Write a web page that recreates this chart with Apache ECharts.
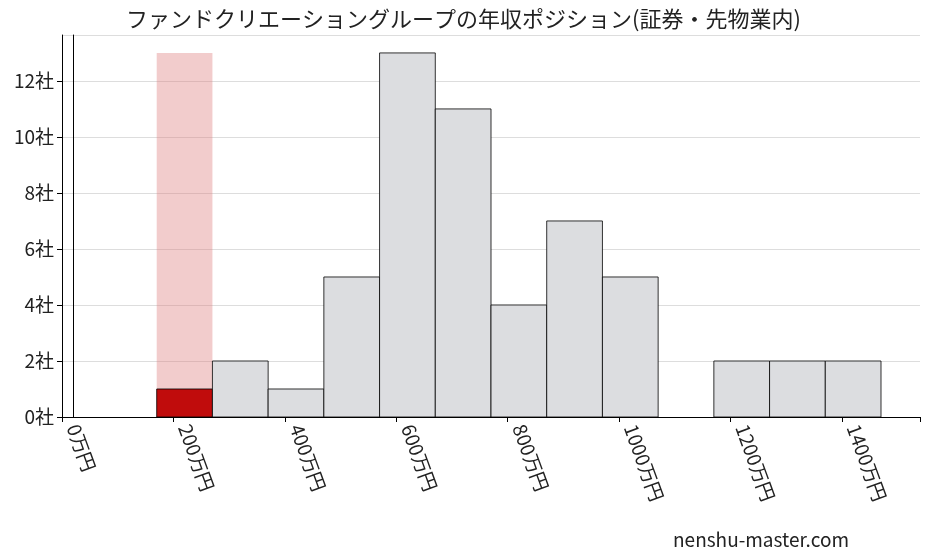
<!DOCTYPE html>
<html><head><meta charset="utf-8">
<script src="https://cdn.jsdelivr.net/npm/echarts@6/dist/echarts.min.js"></script>
<style>html,body{margin:0;padding:0;background:#fff}#c{width:927px;height:557px}</style>
</head><body><div id="c"></div>
<script>
const binCenters = [200,300,400,500,600,700,800,900,1000,1100,1200,1300,1400];
const counts = [1,2,1,5,13,11,4,7,5,0,2,2,2];
const highlightBin = 200;
const highlightMax = 13;
const xTicks = [0,200,400,600,800,1000,1200,1400];
const binWidth = 100;
const FF = '"Noto Sans CJK JP", sans-serif';
const chart = echarts.init(document.getElementById('c'));
function rect(api, c, v, style){
  const p0 = api.coord([c - binWidth/2, 0]);
  const p1 = api.coord([c + binWidth/2, v]);
  return {type:'rect', shape:{x:p0[0], y:p1[1], width:p1[0]-p0[0], height:p0[1]-p1[1]}, style};
}
const frameAxis = {show:true,lineStyle:{color:'#000'}};
chart.setOption({
  animation:false,
  title:{text:'ファンドクリエーショングループの年収ポジション(証券・先物業内)',left:'center',top:3,textStyle:{fontFamily:FF,fontSize:22,fontWeight:'normal',color:'#222'}},
  graphic:[{type:'text',right:78,bottom:8,style:{text:'nenshu-master.com',font:'19px '+FF,fill:'#222'}}],
  grid:{left:62,right:7,top:35,bottom:140},
  xAxis:[{type:'value',min:-20,max:1520,interval:200,
    axisLine:{show:true,onZero:false,lineStyle:{color:'#000'}},axisTick:{show:true,length:5,lineStyle:{color:'#000'}},
    splitLine:{show:false},
    axisLabel:{rotate:-70,margin:8,fontFamily:FF,fontSize:19,color:'#222',formatter:v=>xTicks.includes(v)?v+'万円':'',customValues:xTicks}},
    {type:'value',position:'top',min:-20,max:1520,axisLine:frameAxis,axisTick:{show:false},axisLabel:{show:false},splitLine:{show:false}}],
  yAxis:[{type:'value',min:0,max:13.64,interval:2,
    axisLine:{show:true,onZero:false,lineStyle:{color:'#000'}},axisTick:{show:true,length:5,lineStyle:{color:'#000'}},
    splitLine:{show:true,lineStyle:{color:'#ddd'}},
    axisLabel:{fontFamily:FF,fontSize:19,color:'#222',formatter:v=>(v%2===0&&v<=12)?v+'社':'',showMaxLabel:false}},
    {type:'value',position:'right',min:0,max:13.64,axisLine:frameAxis,axisTick:{show:false},axisLabel:{show:false},splitLine:{show:false}}],
  series:[
   {type:'custom',data:[[highlightBin,highlightMax]],renderItem:(p,api)=>rect(api,api.value(0),api.value(1),{fill:'rgba(220,120,120,0.38)'}),z:1},
   {type:'custom',data:binCenters.map((c,i)=>[c,counts[i]]).filter(d=>d[1]>0),
    renderItem:(p,api)=>rect(api,api.value(0),api.value(1),{fill:api.value(0)===highlightBin?'#c00c0c':'#dcdde0',stroke:'#000',lineWidth:0.8}),z:2}
  ]
});
</script></body></html>
